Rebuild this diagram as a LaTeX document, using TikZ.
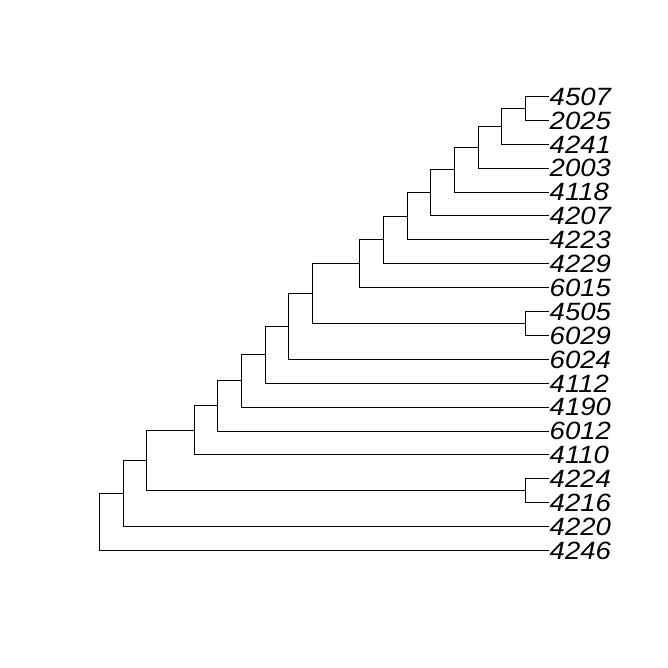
\documentclass[tikz,border=0pt]{standalone}
\usepackage{fontspec}
\usepackage{graphicx}
\setmainfont{Liberation Sans}
\newcommand\px[1]{99.3+23.67*#1}
\newcommand\py[1]{-96.3-23.9*#1}
\newcommand\lbltext[1]{\scalebox{1.1}[1]{#1}}
\begin{document}
\begin{tikzpicture}[x=1pt,y=1pt,
  branch/.style={line width=0.8pt, line cap=rect},
  leaflabel/.style={anchor=base west, inner sep=0pt, font=\fontsize{25}{30}\selectfont\itshape, yshift=-8.9pt, xshift=0.5pt}]
\useasboundingbox (0,0) rectangle (668,-667);
% leaf tips
\foreach \lab [count=\i from 0] in {4507,2025,4241,2003,4118,4207,4223,4229,6015,4505,6029,6024,4112,4190,6012,4110,4224,4216,4220,4246} {
  \coordinate (t\lab) at ({\px{19}},{\py{\i}});
  \node[leaflabel] (n\lab) at (t\lab) {\lbltext{\lab}};
}
% internal nodes
\coordinate (P) at ({\px{18}},{\py{0.5}});
\coordinate (O) at ({\px{17}},{\py{1.25}});
\coordinate (N) at ({\px{16}},{\py{2.125}});
\coordinate (M) at ({\px{15}},{\py{3.0625}});
\coordinate (L) at ({\px{14}},{\py{4.03125}});
\coordinate (K) at ({\px{13}},{\py{5.015625}});
\coordinate (J) at ({\px{12}},{\py{6.0078}});
\coordinate (I) at ({\px{11}},{\py{7.0039}});
\coordinate (Q) at ({\px{18}},{\py{9.5}});
\coordinate (H) at ({\px{9}},{\py{8.252}});
\coordinate (G) at ({\px{8}},{\py{9.626}});
\coordinate (F) at ({\px{7}},{\py{10.813}});
\coordinate (E) at ({\px{6}},{\py{11.907}});
\coordinate (D) at ({\px{5}},{\py{12.953}});
\coordinate (C) at ({\px{4}},{\py{13.977}});
\coordinate (R) at ({\px{18}},{\py{16.5}});
\coordinate (B) at ({\px{2}},{\py{15.238}});
\coordinate (A) at ({\px{1}},{\py{16.619}});
\coordinate (Root) at ({\px{0}},{\py{17.81}});
% branches
\draw[branch] (P) |- (t4507); \draw[branch] (P) |- (t2025);
\draw[branch] (O) |- (P); \draw[branch] (O) |- (t4241);
\draw[branch] (N) |- (O); \draw[branch] (N) |- (t2003);
\draw[branch] (M) |- (N); \draw[branch] (M) |- (t4118);
\draw[branch] (L) |- (M); \draw[branch] (L) |- (t4207);
\draw[branch] (K) |- (L); \draw[branch] (K) |- (t4223);
\draw[branch] (J) |- (K); \draw[branch] (J) |- (t4229);
\draw[branch] (I) |- (J); \draw[branch] (I) |- (t6015);
\draw[branch] (Q) |- (t4505); \draw[branch] (Q) |- (t6029);
\draw[branch] (H) |- (I); \draw[branch] (H) |- (Q);
\draw[branch] (G) |- (H); \draw[branch] (G) |- (t6024);
\draw[branch] (F) |- (G); \draw[branch] (F) |- (t4112);
\draw[branch] (E) |- (F); \draw[branch] (E) |- (t4190);
\draw[branch] (D) |- (E); \draw[branch] (D) |- (t6012);
\draw[branch] (C) |- (D); \draw[branch] (C) |- (t4110);
\draw[branch] (R) |- (t4224); \draw[branch] (R) |- (t4216);
\draw[branch] (B) |- (C); \draw[branch] (B) |- (R);
\draw[branch] (A) |- (B); \draw[branch] (A) |- (t4220);
\draw[branch] (Root) |- (A); \draw[branch] (Root) |- (t4246);
\end{tikzpicture}
\end{document}
